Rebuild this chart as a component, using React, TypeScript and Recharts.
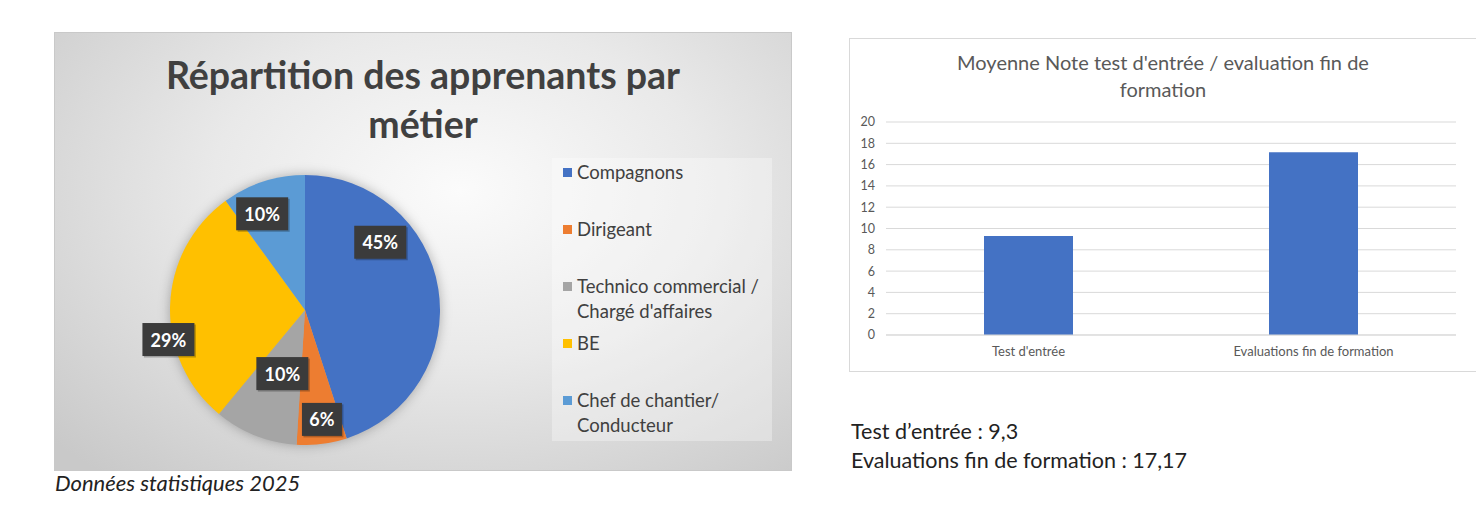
import { Bar, BarChart, CartesianGrid, Cell, Legend, Pie, PieChart, XAxis, YAxis } from 'recharts';

// Répartition des apprenants par métier (en %)
const metiers = [
  'Compagnons',
  'Dirigeant',
  "Technico commercial / Chargé d'affaires",
  'BE',
  'Chef de chantier/ Conducteur',
];
const parts = [45, 6, 10, 29, 10];
const sliceColors = ['#4472c4', '#ed7d31', '#a5a5a5', '#ffc000', '#5b9bd5'];

// placement des étiquettes (décalage d'angle en degrés, fraction du rayon), façon "ajustement optimal" d'Excel
const labelShift = [33, 1.6, 2, 14, 6];
const labelRadius = [0.75, 0.82, 0.5, 1.035, 0.78];

// Moyenne note test d'entrée / évaluation fin de formation
const evalCategories = ["Test d'entrée", 'Evaluations fin de formation'];
const evalScores = [9.3, 17.17];
const yTicks = [0, 2, 4, 6, 8, 10, 12, 14, 16, 18, 20];

const pieData = metiers.map((name, i) => ({ name, value: parts[i] }));
const barData = evalCategories.map((label, i) => ({ label, score: evalScores[i] }));

const font = 'Lato, "Open Sans", sans-serif';
const RAD = Math.PI / 180;

function renderPieLabel(props: any) {
  const { cx, cy, midAngle, outerRadius, value, index } = props;
  const a = midAngle + labelShift[index];
  const r = outerRadius * labelRadius[index];
  const x = cx + r * Math.cos(-a * RAD);
  const y = cy + r * Math.sin(-a * RAD);
  const text = `${value}%`;
  const w = text.length * 12 + 16;
  const h = 33;
  return (
    <g>
      <rect x={x - w / 2 + 1.5} y={y - h / 2 + 1.5} width={w} height={h} fill="rgba(0,0,0,0.25)" />
      <rect x={x - w / 2} y={y - h / 2} width={w} height={h} fill="#3b3b3b" />
      <text
        x={x}
        y={y}
        textAnchor="middle"
        dominantBaseline="central"
        fill="#ffffff"
        fontSize={18}
        fontWeight={700}
        fontFamily={font}
      >
        {text}
      </text>
    </g>
  );
}

function renderLegend() {
  return (
    <div
      style={{
        width: 220,
        height: 283,
        background: 'rgba(255,255,255,0.32)',
        boxSizing: 'border-box',
        paddingTop: 2,
        fontFamily: font,
      }}
    >
      {pieData.map((d, i) => (
        <div key={d.name} style={{ position: 'relative', height: 57 }}>
          <span
            style={{
              position: 'absolute',
              left: 11,
              top: 8,
              width: 9,
              height: 9,
              background: sliceColors[i],
            }}
          />
          <div
            style={{
              position: 'absolute',
              left: 25,
              top: 0,
              width: 194,
              fontSize: 18.5,
              lineHeight: '25px',
              color: '#404040',
            }}
          >
            {d.name}
          </div>
        </div>
      ))}
    </div>
  );
}

export default function App() {
  return (
    <div style={{ position: 'absolute', left: 0, top: 0, width: 1476, height: 520, background: '#ffffff', fontFamily: font }}>
      <style>{`.pie-panel .recharts-pie { filter: drop-shadow(0 0 6px rgba(0,0,0,0.28)); }`}</style>

      {/* Graphique circulaire */}
      <div
        className="pie-panel"
        style={{
          position: 'absolute',
          left: 54,
          top: 32,
          width: 738,
          height: 439,
          boxSizing: 'border-box',
          border: '1px solid #c9c9c9',
          background: 'radial-gradient(ellipse 75% 85% at 55% 36%, #fbfbfb 0%, #e9e9e9 45%, #c9c9c9 100%)',
        }}
      >
        <div
          style={{
            position: 'absolute',
            left: 0,
            top: 17,
            width: 736,
            textAlign: 'center',
            fontSize: 37.5,
            lineHeight: '49px',
            fontWeight: 700,
            color: '#404040',
          }}
        >
          Répartition des apprenants par
          <br />
          métier
        </div>
        <div style={{ position: 'absolute', left: 0, top: 0 }}>
          <PieChart width={736} height={437}>
            <Pie
              data={pieData}
              dataKey="value"
              nameKey="name"
              cx={245}
              cy={272}
              outerRadius={135}
              startAngle={90}
              endAngle={-270}
              stroke="none"
              labelLine={false}
              label={renderPieLabel}
              isAnimationActive={false}
            >
              {pieData.map((d, i) => (
                <Cell key={d.name} fill={sliceColors[i]} />
              ))}
            </Pie>
            <Legend
              content={renderLegend}
              layout="vertical"
              align="right"
              verticalAlign="top"
              wrapperStyle={{ left: 497, top: 125, width: 220, height: 283 }}
            />
          </PieChart>
        </div>
      </div>

      <div
        style={{
          position: 'absolute',
          left: 55,
          top: 469,
          fontSize: 22,
          fontStyle: 'italic',
          color: '#222222',
          lineHeight: '28px',
        }}
      >
        Données statistiques 2025
      </div>

      {/* Histogramme */}
      <div
        style={{
          position: 'absolute',
          left: 849,
          top: 38,
          width: 628,
          height: 334,
          boxSizing: 'border-box',
          border: '1px solid #d9d9d9',
          background: '#ffffff',
        }}
      >
        <div
          style={{
            position: 'absolute',
            left: 0,
            top: 10,
            width: 626,
            textAlign: 'center',
            fontSize: 20,
            lineHeight: '27px',
            color: '#595959',
          }}
        >
          Moyenne Note test d'entrée / evaluation fin de
          <br />
          formation
        </div>
        <div style={{ position: 'absolute', left: 0, top: 0 }}>
          <BarChart width={626} height={332} data={barData} margin={{ top: 83, right: 20, left: 0, bottom: 6 }}>
            <CartesianGrid vertical={false} stroke="#d9d9d9" />
            <XAxis
              dataKey="label"
              axisLine={{ stroke: '#d9d9d9' }}
              tickLine={false}
              tickMargin={6}
              height={30}
              tick={{ fontSize: 13, fill: '#595959', fontFamily: font }}
            />
            <YAxis
              domain={[0, 20]}
              ticks={yTicks}
              width={36}
              axisLine={false}
              tickLine={false}
              tickMargin={5}
              interval={0}
              tick={{ fontSize: 12.5, fill: '#595959', fontFamily: font }}
            />
            <Bar dataKey="score" fill="#4472c4" barSize={89} isAnimationActive={false} />
          </BarChart>
        </div>
      </div>

      <div
        style={{
          position: 'absolute',
          left: 851,
          top: 417,
          fontSize: 21.5,
          lineHeight: '29px',
          color: '#222222',
        }}
      >
        Test d’entrée : {String(evalScores[0]).replace('.', ',')}
        <br />
        Evaluations fin de formation : {String(evalScores[1]).replace('.', ',')}
      </div>
    </div>
  );
}
